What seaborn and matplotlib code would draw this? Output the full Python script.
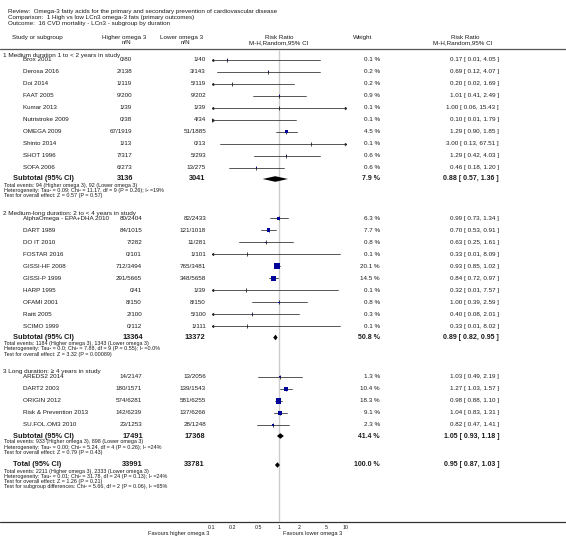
import numpy as np
import pandas as pd
import matplotlib
matplotlib.use('Agg')
import matplotlib.pyplot as plt
import seaborn as sns

# ---- values ----
group_titles = [
    "1 Medium duration 1 to < 2 years in study",
    "2 Medium-long duration: 2 to < 4 years in study",
    "3 Long duration: \u2265 4 years in study",
]
studies = [
    "Brox 2001", "Derosa 2016", "Doi 2014", "FAAT 2005", "Kumar 2013",
    "Nutristroke 2009", "OMEGA 2009", "Shinto 2014", "SHOT 1996", "SOFA 2006",
    "AlphaOmega - EPA+DHA 2010", "DART 1989", "DO IT 2010", "FOSTAR 2016",
    "GISSI-HF 2008", "GISSI-P 1999", "HARP 1995", "OFAMI 2001", "Raitt 2005",
    "SCIMO 1999",
    "AREDS2 2014", "DART2 2003", "ORIGIN 2012", "Risk & Prevention 2013",
    "SU.FOL.OM3 2010",
]
group_id = [0] * 10 + [1] * 10 + [2] * 5
hi_events = [0, 2, 1, 9, 1, 0, 67, 1, 7, 6,
             80, 84, 7, 0, 712, 291, 0, 8, 2, 0,
             14, 180, 574, 142, 23]
hi_total = [80, 138, 119, 200, 39, 38, 1919, 13, 317, 273,
            2404, 1015, 282, 101, 3494, 5665, 41, 150, 100, 112,
            2147, 1571, 6281, 6239, 1253]
lo_events = [1, 3, 5, 9, 1, 4, 51, 0, 5, 13,
             82, 121, 11, 1, 765, 348, 1, 8, 5, 1,
             13, 139, 581, 137, 28]
lo_total = [40, 143, 119, 202, 39, 34, 1885, 13, 293, 275,
            2433, 1018, 281, 101, 3481, 5658, 39, 150, 100, 111,
            2056, 1543, 6255, 6266, 1248]
weights = [0.1, 0.2, 0.2, 0.9, 0.1, 0.1, 4.5, 0.1, 0.6, 0.6,
           6.3, 7.7, 0.8, 0.1, 20.1, 14.5, 0.1, 0.8, 0.3, 0.1,
           1.3, 10.4, 18.3, 9.1, 2.3]
rr = [0.17, 0.69, 0.20, 1.01, 1.00, 0.10, 1.29, 3.00, 1.29, 0.46,
      0.99, 0.70, 0.63, 0.33, 0.93, 0.84, 0.32, 1.00, 0.40, 0.33,
      1.03, 1.27, 0.98, 1.04, 0.82]
ci_low = [0.01, 0.12, 0.02, 0.41, 0.06, 0.01, 0.90, 0.13, 0.42, 0.18,
          0.73, 0.53, 0.25, 0.01, 0.85, 0.72, 0.01, 0.39, 0.08, 0.01,
          0.49, 1.03, 0.88, 0.83, 0.47]
ci_high = [4.05, 4.07, 1.69, 2.49, 15.43, 1.79, 1.85, 67.51, 4.03, 1.20,
           1.34, 0.91, 1.61, 8.09, 1.02, 0.97, 7.57, 2.59, 2.01, 8.02,
           2.19, 1.57, 1.10, 1.31, 1.41]

sub_hi_total = [3136, 13364, 17491]
sub_lo_total = [3041, 13372, 17368]
sub_weight = [7.9, 50.8, 41.4]
sub_rr = [0.88, 0.89, 1.05]
sub_low = [0.57, 0.82, 0.93]
sub_high = [1.36, 0.95, 1.18]
sub_notes = [
    ["Total events: 94 (Higher omega 3), 92 (Lower omega 3)",
     "Heterogeneity: Tau\u00b2 = 0.09; Chi\u00b2 = 11.17, df = 9 (P = 0.26); I\u00b2 =19%",
     "Test for overall effect: Z = 0.57 (P = 0.57)"],
    ["Total events: 1184 (Higher omega 3), 1343 (Lower omega 3)",
     "Heterogeneity: Tau\u00b2 = 0.0; Chi\u00b2 = 7.88, df = 9 (P = 0.55); I\u00b2 =0.0%",
     "Test for overall effect: Z = 3.32 (P = 0.00089)"],
    ["Total events: 933 (Higher omega 3), 898 (Lower omega 3)",
     "Heterogeneity: Tau\u00b2 = 0.00; Chi\u00b2 = 5.24, df = 4 (P = 0.26); I\u00b2 =24%",
     "Test for overall effect: Z = 0.79 (P = 0.43)"],
]
total_hi, total_lo = 33991, 33781
total_weight = 100.0
total_rr, total_low, total_high = 0.95, 0.87, 1.03
total_notes = [
    "Total events: 2211 (Higher omega 3), 2333 (Lower omega 3)",
    "Heterogeneity: Tau\u00b2 = 0.01; Chi\u00b2 = 31.78, df = 24 (P = 0.13); I\u00b2 =24%",
    "Test for overall effect: Z = 1.26 (P = 0.21)",
    "Test for subgroup differences: Chi\u00b2 = 5.66, df = 2 (P = 0.06), I\u00b2 =65%",
]
axis_ticks = [0.1, 0.2, 0.5, 1, 2, 5, 10]
axis_ticklabels = ["0.1", "0.2", "0.5", "1", "2", "5", "10"]

# ---- row layout (pixel rows, top down) ----
row_step, note_step = 12.0, 5.3
y = 55.0
rows = []  # (kind, index, y)
for g in range(3):
    rows.append(("group", g, y))
    y += 4.7
    for i in [k for k, gg in enumerate(group_id) if gg == g]:
        rows.append(("study", i, y))
        last = y
        y += row_step
    y = last + 11.3
    rows.append(("sub", g, y))
    sub_y = y
    y = sub_y + 34.5
total_y = sub_y + 29

# right edge of the "higher omega 3" column shifts a bit after group 1
hi_col_right = [132, 142, 142]

sns.set_theme(style="white")
plt.rcParams['font.family'] = ['Liberation Sans', 'DejaVu Sans']

W, H = 566, 539
fig = plt.figure(figsize=(W / 100, H / 100), dpi=100)
ax = fig.add_axes([0, 0, 1, 1])
ax.set_xlim(0, W)
ax.set_ylim(H, 0)
ax.axis('off')

# forest panel: 0.1 .. 10 on a log scale, placed between x=212 and x=346 px
fx = fig.add_axes([212 / W, 0, (346 - 212) / W, 1])
fx.set_xscale('log')
fx.set_xlim(0.1, 10)
fx.set_ylim(H, 0)
fx.axis('off')
fx.patch.set_alpha(0)

FS = 4.5
NOTE_FS = 3.9
TXT = '#1a1a1a'


def t(x, yy, s, size=FS, ha='left', bold=False):
    ax.text(x, yy, s, fontsize=size, ha=ha, va='center', color=TXT,
            fontweight='bold' if bold else 'normal')


def rr_text(r, lo, hi):
    return f"{r:.2f} [ {lo:.2f}, {hi:.2f} ]"


def diamond(r, lo, hi, yy, h=2.8):
    fx.fill([lo, r, hi, r], [yy, yy - h, yy, yy + h], color='black', lw=0)


# header block
t(8, 11, "Review:  Omega-3 fatty acids for the primary and secondary prevention of cardiovascular disease")
t(8, 17, "Comparison:  1 High vs low LCn3 omega-3 fats (primary outcomes)")
t(8, 23, "Outcome:  16 CVD mortality - LCn3 - subgroup by duration")
t(12, 37.5, "Study or subgroup")
t(124, 37.5, "Higher omega 3", ha='center')
t(126, 43, "n/N", ha='center')
t(182, 37.5, "Lower omega 3", ha='center')
t(185, 43, "n/N", ha='center')
t(279, 37.5, "Risk Ratio", ha='center')
t(279, 43, "M-H,Random,95% CI", ha='center')
t(353, 37.5, "Weight")
t(465, 37.5, "Risk Ratio", ha='center')
t(463, 43, "M-H,Random,95% CI", ha='center')
ax.plot([0, W], [49, 49], color='#555555', lw=0.9)

# line of no effect
fx.plot([1, 1], [50, 521], color='#cccccc', lw=1.0, zorder=0)

study_y = {}
for kind, idx, yy in rows:
    if kind == "group":
        t(3, yy, group_titles[idx], size=4.6)
    elif kind == "study":
        study_y[idx] = yy
        g = group_id[idx]
        t(23, yy, studies[idx])
        t(hi_col_right[g], yy, f"{hi_events[idx]}/{hi_total[idx]}", ha='right')
        t(206, yy, f"{lo_events[idx]}/{lo_total[idx]}", ha='right')
        t(380, yy, f"{weights[idx]:.1f} %", ha='right')
        t(499, yy, rr_text(rr[idx], ci_low[idx], ci_high[idx]), ha='right')
    else:
        t(13, yy, "Subtotal (95% CI)", size=5.3, bold=True)
        t(hi_col_right[idx] + 1, yy, f"{sub_hi_total[idx]}", size=5.3, ha='right', bold=True)
        t(205, yy, f"{sub_lo_total[idx]}", size=5.3, ha='right', bold=True)
        t(380, yy, f"{sub_weight[idx]:.1f} %", size=5.0, ha='right', bold=True)
        t(499, yy, rr_text(sub_rr[idx], sub_low[idx], sub_high[idx]), size=5.0, ha='right', bold=True)
        for k, note in enumerate(sub_notes[idx]):
            t(4, yy + 6 + k * note_step, note, size=NOTE_FS)
        diamond(sub_rr[idx], sub_low[idx], sub_high[idx], yy)

# overall total
t(13, total_y, "Total (95% CI)", size=5.3, bold=True)
t(143, total_y, f"{total_hi}", size=5.3, ha='right', bold=True)
t(205, total_y, f"{total_lo}", size=5.3, ha='right', bold=True)
t(380, total_y, f"{total_weight:.1f} %", size=5.0, ha='right', bold=True)
t(499, total_y, rr_text(total_rr, total_low, total_high), size=5.0, ha='right', bold=True)
for k, note in enumerate(total_notes):
    t(4, total_y + 6 + k * note_step, note, size=NOTE_FS)
diamond(total_rr, total_low, total_high, total_y)

# study confidence intervals, clipped at the panel edges with arrows
df = pd.DataFrame({"study": studies, "rr": rr, "lo": ci_low, "hi": ci_high,
                   "weight": weights})
df["y"] = [study_y[i] for i in range(len(studies))]
for _, r in df.iterrows():
    lo_c, hi_c = max(r.lo, 0.1), min(r.hi, 10)
    fx.plot([lo_c, hi_c], [r.y, r.y], color='#3a3a3a', lw=0.6, zorder=1)
    if r.lo < 0.1:
        fx.plot([0.1], [r.y], marker='<', ms=2.4, color='#222222', mew=0, zorder=2)
    if r.hi > 10:
        fx.plot([10], [r.y], marker='>', ms=2.4, color='#222222', mew=0, zorder=2)

inside = df[(df.rr >= 0.1) & (df.rr <= 10)]
sns.scatterplot(data=inside, x="rr", y="y", marker='|', s=5, color='#222222',
                linewidth=0.6, legend=False, ax=fx, zorder=3)
sns.scatterplot(data=inside, x="rr", y="y", size="weight", sizes=(0.1, 18),
                marker='s', color='#00009a', linewidth=0, legend=False,
                ax=fx, zorder=4)
fx.set_xlim(0.1, 10)
fx.set_ylim(H, 0)
fx.axis('off')

# bottom axis
ax.plot([0, W], [521.5, 521.5], color='#333333', lw=0.9)
for v, lab in zip(axis_ticks, axis_ticklabels):
    fx.text(v, 527.5, lab, fontsize=3.8, ha='center', va='center', color=TXT)
t(209, 533.5, "Favours higher omega 3", size=4.1, ha='right')
t(283, 533.5, "Favours lower omega 3", size=4.1)

fig.savefig("out.png", dpi=100)
